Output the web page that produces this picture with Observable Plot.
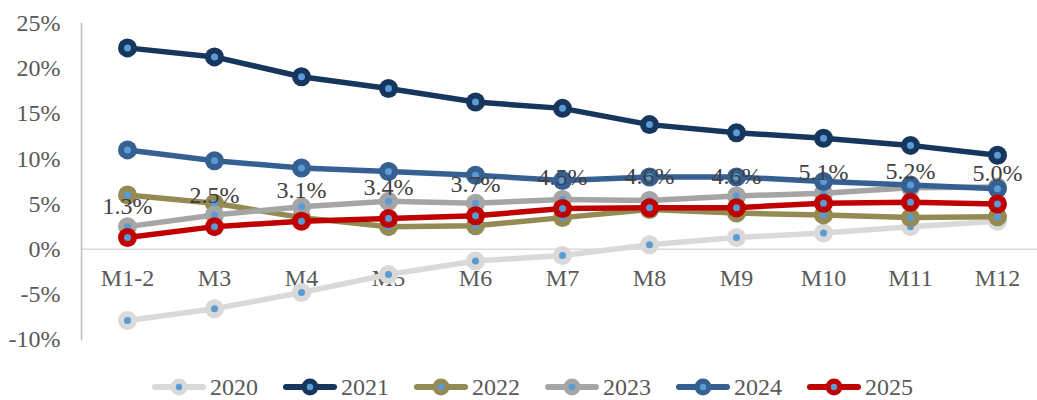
<!DOCTYPE html>
<html>
<head>
<meta charset="utf-8">
<script src="https://cdn.jsdelivr.net/npm/d3@7"></script>
<script src="https://cdn.jsdelivr.net/npm/@observablehq/plot@0.6"></script>
<style>
  html, body { margin: 0; padding: 0; background: #fff; }
  body { width: 1037px; height: 400px; overflow: hidden; font-family: "Liberation Serif", "Times New Roman", serif; }
  #legend { display: flex; align-items: center; padding-left: 151px; margin-top: 13px; height: 24px; }
  .item { display: flex; align-items: center; margin-right: 24px; }
  .item svg { display: block; margin-right: 3px; }
  .item span { font-size: 24px; color: #595959; line-height: 24px; }
</style>
</head>
<body>
<div id="chart"></div>
<div id="legend"></div>
<script>
const months = ["M1-2", "M3", "M4", "M5", "M6", "M7", "M8", "M9", "M10", "M11", "M12"];
const seriesNames = ["2020", "2021", "2022", "2023", "2024", "2025"];
const v2020 = [-7.9, -6.6, -4.8, -2.8, -1.3, -0.7, 0.5, 1.3, 1.8, 2.5, 3.1];
const v2021 = [22.3, 21.3, 19.1, 17.8, 16.3, 15.6, 13.8, 12.9, 12.3, 11.5, 10.4];
const v2022 = [6.0, 5.1, 3.5, 2.5, 2.6, 3.5, 4.4, 4.0, 3.8, 3.5, 3.6];
const v2023 = [2.5, 3.8, 4.7, 5.3, 5.1, 5.5, 5.4, 5.9, 6.2, 6.8, 6.9];
const v2024 = [11.0, 9.8, 9.0, 8.6, 8.2, 7.6, 8.0, 8.0, 7.5, 7.1, 6.7];
const v2025 = [1.3, 2.5, 3.1, 3.4, 3.7, 4.5, 4.6, 4.6, 5.1, 5.2, 5.0];
const yTicks = [-10, -5, 0, 5, 10, 15, 20, 25];
const seriesColors = ["#D9D9D9", "#17365D", "#948A54", "#A5A5A5", "#376092", "#C00000"];

const values = [v2020, v2021, v2022, v2023, v2024, v2025];
const data = seriesNames.flatMap((s, i) => months.map((m, j) => ({series: s, month: m, value: values[i][j]})));

const font = '"Liberation Serif", "Times New Roman", serif';
const innerColor = "#5B9BD5";

const marks = [
  Plot.ruleY([0], {stroke: "#D9D9D9", strokeWidth: 1.5}),
  Plot.frame({anchor: "left", stroke: "#BFBFBF", strokeWidth: 1.5}),
  Plot.axisY(yTicks, {label: null, tickSize: 0, tickPadding: 21, tickFormat: d => d + "%", fontSize: 24, fill: "#595959"}),
  Plot.text(months, {x: d => d, y: () => 0, dy: 29, text: d => d, fontSize: 24, fill: "#595959", lineAnchor: "middle"})
];
for (const s of seriesNames) {
  const d = data.filter(r => r.series === s);
  marks.push(Plot.line(d, {x: "month", y: "value", stroke: "series", strokeWidth: 5.5, strokeLinejoin: "round"}));
  marks.push(Plot.dot(d, {x: "month", y: "value", fill: "series", r: 9.5, stroke: null}));
  marks.push(Plot.dot(d, {x: "month", y: "value", fill: innerColor, r: 3.5, stroke: null}));
}
const d25 = data.filter(r => r.series === "2025");
marks.push(Plot.text(d25, {x: "month", y: "value", text: d => d.value.toFixed(1) + "%", dy: -31, fontSize: 24, fill: "#404040", lineAnchor: "middle"}));

const chart = Plot.plot({
  width: 1037,
  height: 362,
  marginLeft: 81,
  marginRight: 0,
  marginTop: 23,
  marginBottom: 23,
  style: {fontFamily: font, fontSize: "24px", background: "white", overflow: "visible"},
  x: {type: "point", domain: months, range: [124, 1000], padding: 0, axis: null},
  y: {domain: [-10, 25], axis: null},
  color: {domain: seriesNames, range: seriesColors},
  marks
});
document.getElementById("chart").appendChild(chart);

const legend = document.getElementById("legend");
seriesNames.forEach((s, i) => {
  const item = document.createElement("div");
  item.className = "item";
  const c = seriesColors[i];
  item.innerHTML = `<svg width="56" height="20" viewBox="0 0 56 20">
    <line x1="4" y1="10" x2="52" y2="10" stroke="${c}" stroke-width="6" stroke-linecap="round"/>
    <circle cx="28" cy="10" r="8.5" fill="${c}"/>
    <circle cx="28" cy="10" r="3.2" fill="${innerColor}"/>
  </svg><span>${s}</span>`;
  legend.appendChild(item);
});
</script>
</body>
</html>
